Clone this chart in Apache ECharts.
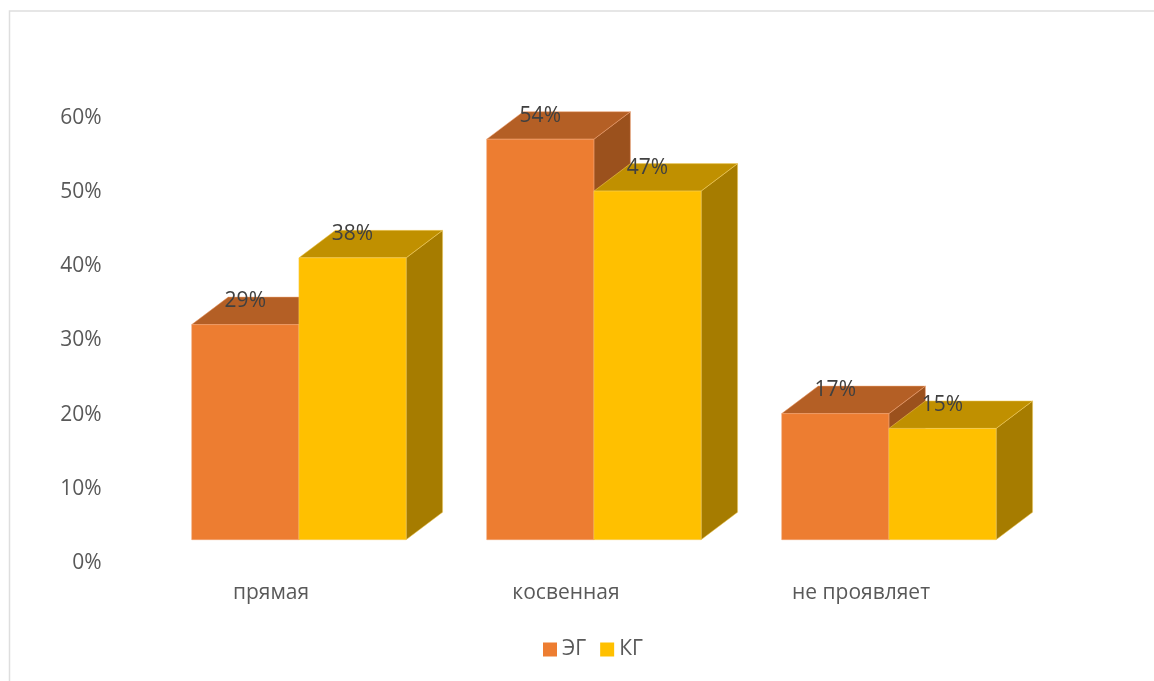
<!DOCTYPE html>
<html><head><meta charset="utf-8">
<style>html,body{margin:0;padding:0;background:#fff}#c{width:1154px;height:681px}</style>
<script src="https://cdn.jsdelivr.net/npm/echarts@6/dist/echarts.min.js"></script>
</head><body><div id="c"></div>
<script>
const categories = ['прямая', 'косвенная', 'не проявляет'];
const egValues = [29, 54, 17];
const kgValues = [38, 47, 15];
const yTicks = {min: 0, max: 60, interval: 10};

const FONT = '"Open Sans", sans-serif';
const depthX = 36.5, depthY = 27.5, liftY = 23.3, shiftX = 27.9, barShare = 0.3634;

function makeRender(slot, colors) {
  return function (params, api) {
    const i = api.value(0), v = api.value(1);
    const top = api.coord([i, v]), base = api.coord([i, 0]);
    const w = api.size([1, 0])[0] * barShare;
    const x0 = top[0] + shiftX + (slot === 0 ? -w : 0);
    const x1 = x0 + w;
    const yt = top[1] - liftY, yb = base[1] - liftY;
    const face = (pts, fill) => ({
      type: 'polygon', shape: {points: pts},
      style: {fill: fill, stroke: colors.edge, lineWidth: 0.5}
    });
    return {type: 'group', children: [
      face([[x1, yt], [x1 + depthX, yt - depthY], [x1 + depthX, yb - depthY], [x1, yb]], colors.side),
      face([[x0, yt], [x0 + depthX, yt - depthY], [x1 + depthX, yt - depthY], [x1, yt]], colors.top),
      face([[x0, yt], [x1, yt], [x1, yb], [x0, yb]], colors.front),
      {type: 'text', z2: 10, style: {
        x: (x0 + x1) / 2, y: yt - 23.5, text: v + '%', align: 'center', verticalAlign: 'middle',
        fill: '#404040', font: '21px ' + FONT
      }}
    ]};
  };
}

const chart = echarts.init(document.getElementById('c'), null, {renderer: 'canvas'});
chart.setOption({
  animation: false,
  backgroundColor: '#fff',
  textStyle: {fontFamily: FONT},
  graphic: [{type: 'rect', silent: true, z: -1,
    shape: {x: 9.5, y: 11, width: 1300, height: 900},
    style: {fill: 'none', stroke: '#dedede', lineWidth: 1.5}}],
  grid: {left: 123.5, top: 118, width: 885, height: 445, containLabel: false},
  legend: {
    data: ['ЭГ', 'КГ'], left: 543, top: 639, icon: 'rect',
    itemWidth: 14, itemHeight: 14, itemGap: 14,
    textStyle: {color: '#595959', fontSize: 21, fontFamily: FONT, padding: [4, 0, 0, 0]},
    padding: 0
  },
  xAxis: {
    type: 'category', data: categories,
    axisLine: {show: false}, axisTick: {show: false}, splitLine: {show: false},
    axisLabel: {color: '#595959', fontSize: 21, fontFamily: FONT, margin: 20}
  },
  yAxis: {
    type: 'value', min: yTicks.min, max: yTicks.max, interval: yTicks.interval,
    axisLine: {show: false}, axisTick: {show: false}, splitLine: {show: false},
    axisLabel: {color: '#595959', fontSize: 21, fontFamily: FONT, margin: 22, padding: [2, 0, 0, 0], formatter: '{value}%'}
  },
  series: [
    {name: 'ЭГ', type: 'custom', coordinateSystem: 'cartesian2d', itemStyle: {color: '#ED7D31'},
     encode: {x: 0, y: 1}, data: egValues.map((v, i) => [i, v]),
     renderItem: makeRender(0, {front: '#ED7D31', top: '#B45F25', side: '#9B511D', edge: '#F0A070'})},
    {name: 'КГ', type: 'custom', coordinateSystem: 'cartesian2d', itemStyle: {color: '#FFC000'},
     encode: {x: 0, y: 1}, data: kgValues.map((v, i) => [i, v]),
     renderItem: makeRender(1, {front: '#FFC000', top: '#C09000', side: '#A67C00', edge: '#F5CF60'})}
  ]
});
</script></body></html>
